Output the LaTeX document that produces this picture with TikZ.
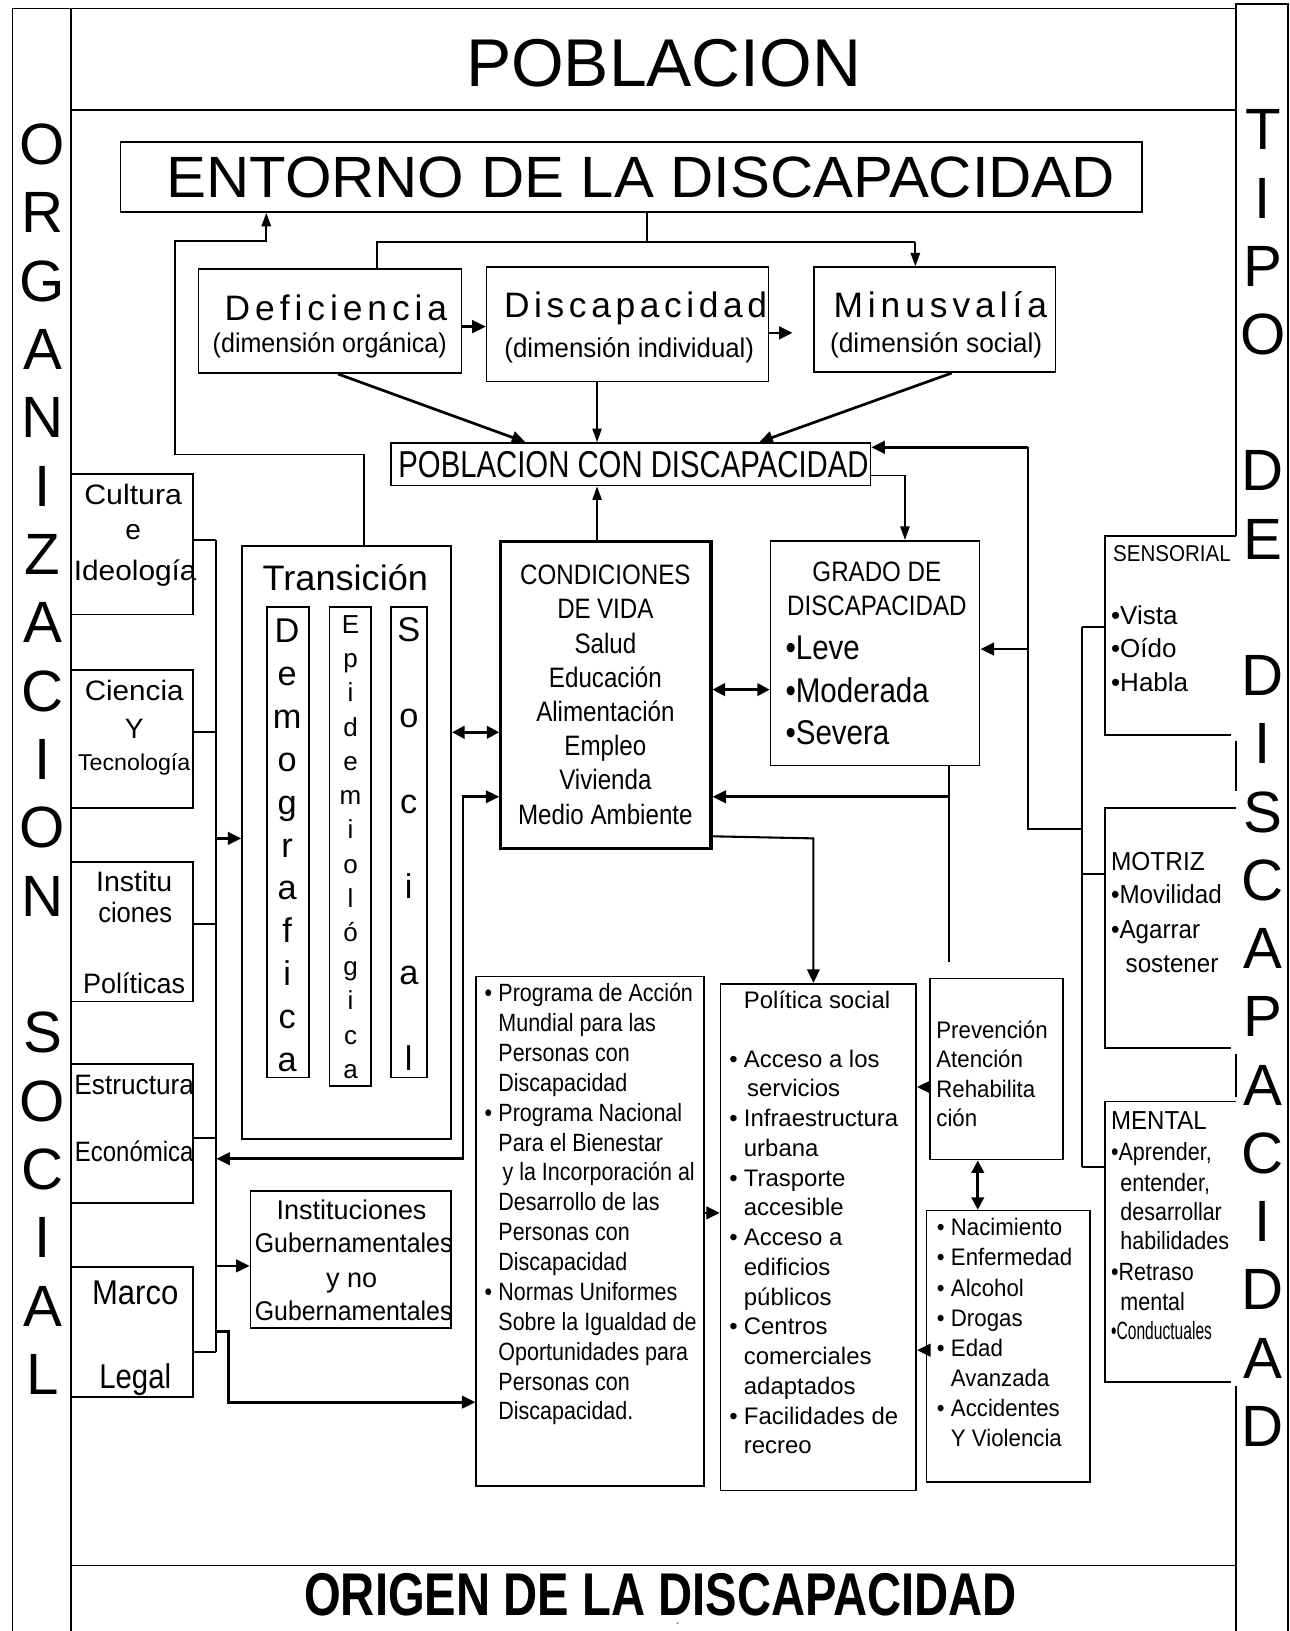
\documentclass[tikz,border=0pt]{standalone}
\usepackage{graphicx}
\usepackage{fontspec}
\setmainfont{Liberation Sans}
\newfontfamily\cnd[FakeStretch=0.86]{Liberation Sans}
\newfontfamily\cne[FakeStretch=0.93]{Liberation Sans}
\usetikzlibrary{arrows.meta}
\newsavebox\fitbox
\newlength\fitl
\newcommand\fitw[2]{\sbox\fitbox{#2}\fitl=\wd\fitbox\pgfmathsetmacro\fitr{#1/\fitl}\scalebox{\fitr}[1]{\usebox\fitbox}}
\newcommand\fs[1]{\fontsize{#1}{#1}\selectfont}
\newcommand\bul{\llap{•\hspace{6pt}}}
\begin{document}
\begin{tikzpicture}[x=1pt,y=-1pt,
 frame/.style={line width=1.5pt},
 bx/.style={draw,line width=1.6pt,inner sep=0pt,anchor=north west},
 obx/.style={inner sep=0pt,anchor=north west},
 tx/.style={inner sep=0pt,anchor=base},
 txl/.style={inner sep=0pt,anchor=base west},
 ln/.style={line width=1.3pt},
 mln/.style={line width=2pt},
 ar/.style={line width=1.3pt,-{Triangle[length=13pt,width=9pt]}},
 tar/.style={line width=2.6pt,-{Triangle[length=13pt,width=12pt]}},
 dar/.style={line width=2.6pt,{Triangle[length=12pt,width=12pt]}-{Triangle[length=12pt,width=12pt]}},
]
\useasboundingbox (0,0) rectangle (1240,1568);

% ---------- frame ----------
\draw[frame] (12,1568) -- (12,8) -- (1188,8);
\draw[frame] (68,8) -- (68,1568);
\draw[frame] (68,106) -- (1188,106);
\draw[frame] (68,1505) -- (1188,1505);
\draw[frame] (1188,515) -- (1188,4) -- (1238,4) -- (1238,1568);
\draw[frame] (1188,712) -- (1188,760);
\draw[frame] (1188,1013) -- (1188,1055);
\draw[frame] (1188,1332) -- (1188,1568);

% ---------- headers ----------
\node[tx] (pob) at (638,83) {\fs{65}\fitw{380}{POBLACION}};
\node[tx] (org) at (635,1553) {\fs{58}\bfseries\fitw{685}{ORIGEN DE LA DISCAPACIDAD}};
\node[inner sep=0pt,anchor=south] (acc) at (652,1568) {\fs{10}´};

\foreach \ch/\pos [count=\i] in {O/0,R/1,G/2,A/3,N/4,I/5,Z/6,A/7,C/8,I/9,O/10,N/11,S/13,O/14,C/15,I/16,A/17,L/18}
  \node[tx] (os\i) at (41,{158+65.7*\pos}) {\fs{56}\ch};
\foreach \ch/\pos [count=\i] in {T/0,I/1,P/2,O/3,D/5,E/6,D/8,I/9,S/10,C/11,A/12,P/13,A/14,C/15,I/16,D/17,A/18,D/19}
  \node[tx] (td\i) at (1214,{144+65.6*\pos}) {\fs{56}\ch};

% ---------- boxes ----------
\node[bx,minimum width=982pt,minimum height=67pt] (ent) at (115,136) {};
\node[bx,minimum width=253pt,minimum height=100pt] (def) at (190,258) {};
\node[bx,minimum width=271pt,minimum height=110pt] (dis) at (467,256) {};
\node[bx,minimum width=232pt,minimum height=101pt] (minu) at (782,256) {};
\node[bx,minimum width=461pt,minimum height=41pt] (pcd) at (375,425) {};
\node[bx,minimum width=117pt,minimum height=135pt] (cult) at (68,455) {};
\node[bx,minimum width=117pt,minimum height=133pt] (cien) at (68,643) {};
\node[bx,minimum width=117pt,minimum height=134pt] (inst) at (68,828) {};
\node[bx,minimum width=117pt,minimum height=134pt] (estr) at (68,1022) {};
\node[bx,minimum width=117pt,minimum height=125pt] (marco) at (68,1217) {};
\node[bx,minimum width=201pt,minimum height=570pt] (trans) at (232,524) {};
\node[bx,minimum width=40pt,minimum height=452pt] (demo) at (256,583) {};
\node[bx,minimum width=40pt,minimum height=460pt] (epi) at (316,583) {};
\node[bx,minimum width=35pt,minimum height=452pt] (soc) at (375,583) {};
\node[bx,line width=3pt,minimum width=202pt,minimum height=295pt] (cond) at (480,519) {};
\node[bx,minimum width=201pt,minimum height=216pt] (grado) at (740,519) {};
\node[obx,minimum width=126pt,minimum height=191pt] (sens) at (1062,515) {};
\node[obx,minimum width=126pt,minimum height=230pt] (motr) at (1062,777) {};
\node[obx,minimum width=126pt,minimum height=269pt] (ment) at (1062,1059) {};
\foreach \b in {sens,motr,ment}
  \draw[line width=1.6pt] (\b.north east) -- (\b.north west) -- (\b.south west) -- ([xshift=-5pt]\b.south east);
\node[bx,minimum width=193pt,minimum height=132pt] (igub) at (240,1144) {};
\node[bx,minimum width=219pt,minimum height=490pt] (prog) at (457,938) {};
\node[bx,minimum width=188pt,minimum height=487pt] (pol) at (692,945) {};
\node[bx,minimum width=128pt,minimum height=174pt] (prev) at (893,940) {};
\node[bx,minimum width=157pt,minimum height=261pt] (nac) at (890,1163) {};

% ---------- texts ----------
\node[tx] (entt) at (616,190) {\fs{56}\fitw{912}{ENTORNO DE LA DISCAPACIDAD}};
\node[tx] (deft) at (323,308) {\fs{34}\addfontfeature{LetterSpace=14}Deficiencia};
\node[tx] (defd) at (317,339) {\fs{26}\fitw{225}{(dimensión orgánica)}};
\node[tx] (dist) at (611,305) {\fs{34}\addfontfeature{LetterSpace=13}Discapacidad};
\node[tx] (disd) at (605,344) {\fs{26}\fitw{240}{(dimensión individual)}};
\node[tx] (mint) at (904,305) {\fs{34}\addfontfeature{LetterSpace=14}Minusvalía};
\node[tx] (mind) at (900,339) {\fs{26}\fitw{204}{(dimensión social)}};
\node[tx] (pcdt) at (609,459) {\fs{36}\fitw{452}{POBLACION CON DISCAPACIDAD}};

\node[tx] (cu1) at (128,485) {\fs{27}\fitw{94}{Cultura}};
\node[tx] (cu2) at (128,519) {\fs{27}e};
\node[tx] (cu3) at (130,558) {\fs{27}\fitw{118}{Ideología}};
\node[tx] (ci1) at (129,673) {\fs{27}\fitw{95}{Ciencia}};
\node[tx] (ci2) at (129,710) {\fs{27}Y};
\node[tx] (ci3) at (129,741) {\fs{22}\fitw{108}{Tecnología}};
\node[tx] (in1) at (129,857) {\fs{27}\fitw{73}{Institu}};
\node[tx] (in2) at (130,887) {\fs{27}\fitw{71}{ciones}};
\node[tx] (in3) at (129,955) {\fs{27}\fitw{98}{Políticas}};
\node[tx] (es1) at (129,1052) {\fs{27}\fitw{115}{Estructura}};
\node[tx] (es2) at (129,1117) {\fs{27}\fitw{114}{Económica}};
\node[tx] (ma1) at (130,1254) {\fs{33}\fitw{83}{Marco}};
\node[tx] (ma2) at (130,1335) {\fs{33}\fitw{69}{Legal}};

\node[tx] (trt) at (332,568) {\fs{34}\fitw{159}{Transición}};
\foreach \ch [count=\i] in {D,e,m,o,g,r,a,f,i,c,a}
  \node[tx] (dm\i) at (276,{618+41.2*(\i-1)}) {\fs{33}\ch};
\foreach \ch [count=\i] in {E,p,i,d,e,m,i,o,l,ó,g,i,c,a}
  \node[tx] (ep\i) at (337,{609+32.9*(\i-1)}) {\fs{25}\ch};
\foreach \ch [count=\i] in {S,o,c,i,a,l}
  \node[tx] (so\i) at (393,{617+82.4*(\i-1)}) {\fs{33}\ch};

\foreach \itm [count=\i] in {CONDICIONES,DE\hspace{6pt}VIDA,Salud,Educación,Alimentación,Empleo,Vivienda,Medio Ambiente}
  \node[tx] (cd\i) at (582,{562+32.9*(\i-1)}) {\fs{27}\cnd \itm};

\node[tx] (gr1) at (843,559) {\fs{27}\cnd GRADO DE};
\node[tx] (gr2) at (843,592) {\fs{27}\cnd DISCAPACIDAD};
\foreach \itm [count=\i] in {Leve,Moderada,Severa}
  \node[txl] (gb\i) at (755,{634+41*(\i-1)}) {\fs{33}\cnd •\itm};

\node[txl] (se1) at (1070,540) {\fs{22}\fitw{113}{SENSORIAL}};
\foreach \itm [count=\i] in {Vista,Oído,Habla}
  \node[txl] (sb\i) at (1068,{600+32.5*(\i-1)}) {\fs{25}•\itm};
\node[txl] (mo1) at (1068,837) {\fs{25}\fitw{90}{MOTRIZ}};
\node[txl] (mo2) at (1068,869) {\fs{25}\cne •Movilidad};
\node[txl] (mo3) at (1068,902) {\fs{25}\cne •Agarrar};
\node[txl] (mo4) at (1082,935) {\fs{25}\cne sostener};
\node[txl] (me1) at (1068,1086) {\fs{25}\fitw{92}{MENTAL}};
\node[txl] (me2) at (1068,1116) {\fs{24}\cnd •Aprender,};
\node[txl] (me3) at (1077,1145) {\fs{24}\cnd entender,};
\node[txl] (me4) at (1077,1173) {\fs{24}\cnd desarrollar};
\node[txl] (me5) at (1077,1201) {\fs{24}\cnd habilidades};
\node[txl] (me6) at (1068,1231) {\fs{24}\cnd •Retraso};
\node[txl] (me7) at (1077,1260) {\fs{24}\cnd mental};
\node[txl] (me8) at (1068,1288) {\fs{24}\fitw{97}{•Conductuales}};

\node[tx] (ig1) at (338,1172) {\fs{26}\fitw{144}{Instituciones}};
\node[tx] (ig2) at (340,1204) {\fs{26}\fitw{190}{Gubernamentales}};
\node[tx] (ig3) at (338,1238) {\fs{26}y no};
\node[tx] (ig4) at (340,1269) {\fs{26}\fitw{190}{Gubernamentales}};

\foreach \itm [count=\i] in {{\bul Programa de Acción},{Mundial para las},{Personas con},{Discapacidad},{\bul Programa Nacional},{Para el Bienestar},{\hspace{4pt}y la Incorporación al},{Desarrollo de las},{Personas con},{Discapacidad},{\bul Normas Uniformes},{Sobre la Igualdad de},{Oportunidades para},{Personas con},{Discapacidad.}}
  \node[txl] (pg\i) at (479,{963+28.72*(\i-1)}) {\fs{24}\cnd \itm};

\node[txl] (po0) at (715,970) {\fs{23}Política social};
\foreach \itm [count=\i] in {{\bul Acceso a los},{\hspace{3pt}servicios},{\bul Infraestructura},{urbana},{\bul Trasporte},{accesible},{\bul Acceso a},{edificios},{públicos},{\bul Centros},{comerciales},{adaptados},{\bul Facilidades de},{recreo}}
  \node[txl] (po\i) at (715,{1026+28.6*(\i-1)}) {\fs{23}\itm};

\foreach \itm [count=\i] in {Prevención,Atención,Rehabilita,ción}
  \node[txl] (pv\i) at (900,{998+28.4*(\i-1)}) {\fs{23}\cne \itm};

\foreach \itm [count=\i] in {{\bul Nacimiento},{\bul Enfermedad},{\bul Alcohol},{\bul Drogas},{\bul Edad},{Avanzada},{\bul Accidentes},{Y Violencia}}
  \node[txl] (nc\i) at (914,{1188+29*(\i-1)}) {\fs{23}\cne \itm};

% ---------- connectors ----------
\coordinate (j1) at (622,233);
\coordinate (j1l) at (362,233);
\coordinate (j1r) at (880,233);
\draw[ln] (ent.south -| j1) -- (j1);
\draw[mln] (def.north -| j1l) -- (j1l) -- (j1r);
\draw[ar,line width=2pt] (j1r) -- (minu.north -| j1r);

\coordinate (l1) at (350,437);
\coordinate (l2) at (168,437);
\coordinate (l3) at (168,232);
\coordinate (l4) at (256,232);
\draw[ar,line width=1.8pt] (trans.north -| l1) -- (l1) -- (l2) -- (l3) -- (l4) -- (ent.south -| l4);

\draw[tar] (def.east |- 0,314) -- (dis.west |- 0,314);
\coordinate (a4) at (762,320);
\draw[tar] (dis.east |- a4) -- (a4);
\draw[tar] (def.south -| 325,0) -- (pcd.north -| 505,0);
\draw[ar] (dis.south -| 574,0) -- (pcd.north -| 574,0);
\draw[tar] (minu.south -| 915,0) -- (pcd.north -| 730,0);
\draw[ar] (cond.north -| 574,0) -- (pcd.south -| 574,0);

\coordinate (g1) at (870,457);
\draw[ar] (pcd.east |- g1) -- (g1) -- (grado.north -| g1);

\coordinate (r1) at (988,430);
\coordinate (r2) at (988,797);
\coordinate (r3) at (1040,797);
\coordinate (b1) at (1040,603);
\coordinate (b2) at (1040,1122);
\coordinate (bm) at (1040,840);
\draw[tar] (r1) -- (pcd.east |- r1);
\draw[mln] (r1) -- (r2) -- (r3);
\draw[mln] (b1) -- (b2);
\draw[mln] (b1) -- (sens.west |- b1);
\draw[mln] (bm) -- (motr.west |- bm);
\draw[mln] (b2) -- (ment.west |- b2);
\coordinate (r4) at (988,624);
\draw[tar] (r4) -- (grado.east |- r4);

\draw[dar] (cond.east |- 0,663) -- (grado.west |- 0,663);
\draw[dar] (trans.east |- 0,704) -- (cond.west |- 0,704);

\coordinate (c1) at (445,766);
\coordinate (c2) at (445,1114);
\coordinate (bus2) at (208,1114);
\draw[tar,{Triangle[length=13pt,width=12pt]}-{Triangle[length=13pt,width=12pt]}] (cond.west |- c1) -- (c1) -- (c2) -- (bus2);

\coordinate (bt) at (208,519);
\coordinate (bb) at (208,1300);
\draw[mln] (bt) -- (bb);
\draw[mln] (cult.east |- bt) -- (bt);
\draw[mln] (cien.east |- 0,704) -- (bt |- 0,704);
\draw[mln] (inst.east |- 0,888) -- (bt |- 0,888);
\draw[mln] (estr.east |- 0,1094) -- (bt |- 0,1094);
\draw[mln] (marco.east |- bb) -- (bb);
\coordinate (bx1) at (208,806);
\draw[tar] (bx1) -- (trans.west |- bx1);
\coordinate (bx2) at (208,1217);
\draw[tar] (bx2) -- (igub.west |- bx2);
\coordinate (bx3) at (208,1280);
\coordinate (bx4) at (220,1280);
\coordinate (bx5) at (220,1348);
\draw[tar] (bx3) -- (bx4) -- (bx5) -- (prog.west |- bx5);

\coordinate (p1) at (782,806);
\draw[tar,line width=2pt] (cond.east |- 0,804) -- (p1) -- (pol.north -| p1);
\coordinate (g2) at (912,925);
\draw[mln] (grado.south -| g2) -- (g2);
\coordinate (g3) at (912,766);
\draw[tar] (g3) -- (cond.east |- g3);

\draw[tar] (prog.east |- 0,1166) -- (pol.west |- 0,1166);
\draw[tar] (prev.west |- 0,1045) -- (pol.east |- 0,1045);
\draw[dar] (prev.south -| 940,0) -- (nac.north -| 940,0);
\draw[tar] (nac.west |- 0,1298) -- (pol.east |- 0,1298);
\end{tikzpicture}
\end{document}
